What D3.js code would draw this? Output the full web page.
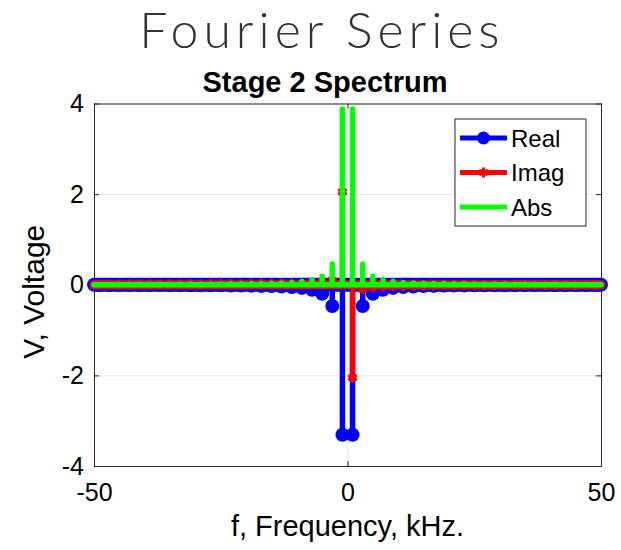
<!DOCTYPE html>
<html>
<head>
<meta charset="utf-8">
<script src="https://cdn.jsdelivr.net/npm/d3@7"></script>
<style>
  body { margin: 0; background: #fff; }
  svg text { font-family: 'Liberation Sans', Arial, sans-serif; }
</style>
</head>
<body>
<div id="chart"></div>
<script>
// harmonic numbers (kHz) with nonzero content, positive side only
const harmonics = [1, 3, 5, 7, 9, 11, 13, 15, 17, 19, 21, 23, 25, 27, 29, 31, 33, 35, 37, 39, 41, 43, 45, 47, 49];
// value at +k
const realPos = [-3.31, -0.47, -0.2, -0.11, -0.07, -0.05, -0.04, -0.03, -0.025, -0.02, -0.018, -0.015, -0.013,
  -0.012, -0.011, -0.01, -0.009, -0.008, -0.008, -0.007, -0.007, -0.006, -0.006, -0.005, -0.005];
const imagPos = [-2.05, -0.1, -0.06, -0.04, -0.03, -0.025, -0.02, -0.017, -0.015, -0.013, -0.012, -0.011, -0.01,
  -0.009, -0.008, -0.008, -0.007, -0.007, -0.006, -0.006, -0.005, -0.005, -0.005, -0.004, -0.004];
const absPos = [3.88, 0.46, 0.19, 0.11, 0.07, 0.05, 0.04, 0.035, 0.03, 0.025, 0.022, 0.02, 0.018,
  0.016, 0.015, 0.014, 0.013, 0.012, 0.011, 0.01, 0.01, 0.009, 0.009, 0.008, 0.008];

const xTicks = [-50, 0, 50];
const yTicks = [-4, -2, 0, 2, 4];
const xRange = [-50, 50];
const yRange = [-4, 4];

// full spectrum -50..50 (real even, imag odd, abs even)
const freqs = d3.range(xRange[0], xRange[1] + 1);
function valueAt(k, arr, odd) {
  const i = harmonics.indexOf(Math.abs(k));
  if (i < 0) return 0;
  return k < 0 && odd ? -arr[i] : arr[i];
}
const realData = freqs.map(k => ({f: k, v: valueAt(k, realPos, false)}));
const imagData = freqs.map(k => ({f: k, v: valueAt(k, imagPos, true)}));
const absData = freqs.map(k => ({f: k, v: valueAt(k, absPos, false)}));

// the spectrum is sampled finely, so each line drops straight to its peak and back
function spikes(data) {
  const out = [];
  data.forEach(d => {
    out.push({f: d.f, v: 0});
    if (d.v !== 0) { out.push({f: d.f, v: d.v}); out.push({f: d.f, v: 0}); }
  });
  return out;
}

const W = 621, H = 550;
const margin = {top: 103.5, right: 20, bottom: 84, left: 94};
const width = W - margin.left - margin.right;
const height = H - margin.top - margin.bottom;

const root = d3.select('#chart').append('svg').attr('width', W).attr('height', H);

// suptitle
root.append('text')
  .attr('x', 322).attr('y', 48)
  .attr('text-anchor', 'middle')
  .style('font-family', 'Lato, "Open Sans", sans-serif')
  .style('font-weight', 300)
  .style('font-size', '50px')
  .style('letter-spacing', '5px')
  .style('fill', '#333')
  .text('Fourier Series');

const svg = root.append('g').attr('transform', 'translate(' + margin.left + ',' + margin.top + ')');

const x = d3.scaleLinear().domain(xRange).range([0, width]);
const y = d3.scaleLinear().domain(yRange).range([height, 0]);
const fmt = d => String(d);

// grid
svg.append('g')
  .attr('transform', 'translate(0,' + height + ')')
  .call(d3.axisBottom(x).tickValues(xTicks).tickSize(-height).tickFormat(''))
  .call(g => g.select('.domain').remove())
  .call(g => g.selectAll('line').attr('stroke', '#e3e3e3'));
svg.append('g')
  .call(d3.axisLeft(y).tickValues(yTicks).tickSize(-width).tickFormat(''))
  .call(g => g.select('.domain').remove())
  .call(g => g.selectAll('line').attr('stroke', '#e3e3e3'));

// axes (box with inward ticks)
function styleAxis(g) {
  g.select('.domain').attr('stroke', '#262626');
  g.selectAll('.tick line').attr('stroke', '#262626');
  g.selectAll('text').style('font-size', '25px').attr('fill', '#000');
}
svg.append('g')
  .attr('transform', 'translate(0,' + height + ')')
  .call(d3.axisBottom(x).tickValues(xTicks).tickFormat(fmt).tickSizeInner(-5).tickSizeOuter(0).tickPadding(17))
  .call(styleAxis);
svg.append('g')
  .call(d3.axisTop(x).tickValues(xTicks).tickSizeInner(-5).tickSizeOuter(0).tickFormat(''))
  .call(styleAxis);
svg.append('g')
  .call(d3.axisLeft(y).tickValues(yTicks).tickFormat(fmt).tickSizeInner(-5).tickSizeOuter(0).tickPadding(10))
  .call(styleAxis);
svg.append('g')
  .attr('transform', 'translate(' + width + ',0)')
  .call(d3.axisRight(y).tickValues(yTicks).tickSizeInner(-5).tickSizeOuter(0).tickFormat(''))
  .call(styleAxis);

// titles
svg.append('text')
  .attr('x', 325 - margin.left).attr('y', -12)
  .attr('text-anchor', 'middle')
  .style('font-size', '29px').style('font-weight', 'bold')
  .text('Stage 2 Spectrum');
svg.append('text')
  .attr('x', width / 2).attr('y', height + 70)
  .attr('text-anchor', 'middle')
  .style('font-size', '29px')
  .text('f, Frequency, kHz.');
svg.append('text')
  .attr('transform', 'translate(-50,' + (height / 2 + 7) + ') rotate(-90)')
  .attr('text-anchor', 'middle')
  .style('font-size', '30px')
  .text('V, Voltage');

const line = d3.line().x(d => x(d.f)).y(d => y(d.v));
const star = d3.symbol().type(d3.symbolAsterisk).size(70);

// Real: dense circle markers along the zero samples form a band
svg.append('path').datum(xRange.map(f => ({f: f, v: 0})))
  .attr('fill', 'none').attr('stroke', '#0000ff').attr('stroke-width', 14)
  .attr('stroke-linecap', 'round').attr('d', line);
svg.append('path').datum(spikes(realData))
  .attr('fill', 'none').attr('stroke', '#0000ff').attr('stroke-width', 5.5)
  .attr('stroke-linejoin', 'round').attr('d', line);
svg.append('g').selectAll('circle').data(realData.filter(d => d.v !== 0)).join('circle')
  .attr('cx', d => x(d.f)).attr('cy', d => y(d.v)).attr('r', 7)
  .attr('fill', '#0000ff');

// Imag: dense asterisk markers along zero
svg.append('path').datum(xRange.map(f => ({f: f, v: 0})))
  .attr('fill', 'none').attr('stroke', '#ff0000').attr('stroke-width', 9)
  .attr('stroke-linecap', 'round').attr('d', line);
svg.append('path').datum(spikes(imagData))
  .attr('fill', 'none').attr('stroke', '#ff0000').attr('stroke-width', 5.5)
  .attr('stroke-linejoin', 'round').attr('d', line);
svg.append('g').selectAll('path').data(imagData.filter(d => d.v !== 0)).join('path')
  .attr('transform', d => 'translate(' + x(d.f) + ',' + y(d.v) + ')')
  .attr('d', star).attr('fill', 'none').attr('stroke', '#ff0000').attr('stroke-width', 3);

// Abs
svg.append('path').datum(spikes(absData))
  .attr('fill', 'none').attr('stroke', '#00ff00').attr('stroke-width', 5.5)
  .attr('stroke-linejoin', 'round').attr('stroke-linecap', 'round').attr('d', line);

// legend
const legendItems = [
  {label: 'Real', color: '#0000ff', marker: 'circle'},
  {label: 'Imag', color: '#ff0000', marker: 'star'},
  {label: 'Abs', color: '#00ff00', marker: 'none'}
];
const lg = svg.append('g').attr('transform', 'translate(' + (455 - margin.left) + ',' + (119 - margin.top) + ')');
lg.append('rect').attr('width', 131).attr('height', 107)
  .attr('fill', '#fff').attr('stroke', '#262626').attr('stroke-width', 1);
legendItems.forEach((it, i) => {
  const cy = 19 + i * 34.5;
  lg.append('line').attr('x1', 5).attr('x2', 52).attr('y1', cy).attr('y2', cy)
    .attr('stroke', it.color).attr('stroke-width', 5);
  if (it.marker === 'circle') {
    lg.append('circle').attr('cx', 28.5).attr('cy', cy).attr('r', 6.5).attr('fill', it.color);
  } else if (it.marker === 'star') {
    lg.append('path').attr('transform', 'translate(28.5,' + cy + ')').attr('d', star)
      .attr('fill', 'none').attr('stroke', it.color).attr('stroke-width', 3);
  }
  lg.append('text').attr('x', 56).attr('y', cy + 8.5)
    .style('font-size', '24px').text(it.label);
});
</script>
</body>
</html>
